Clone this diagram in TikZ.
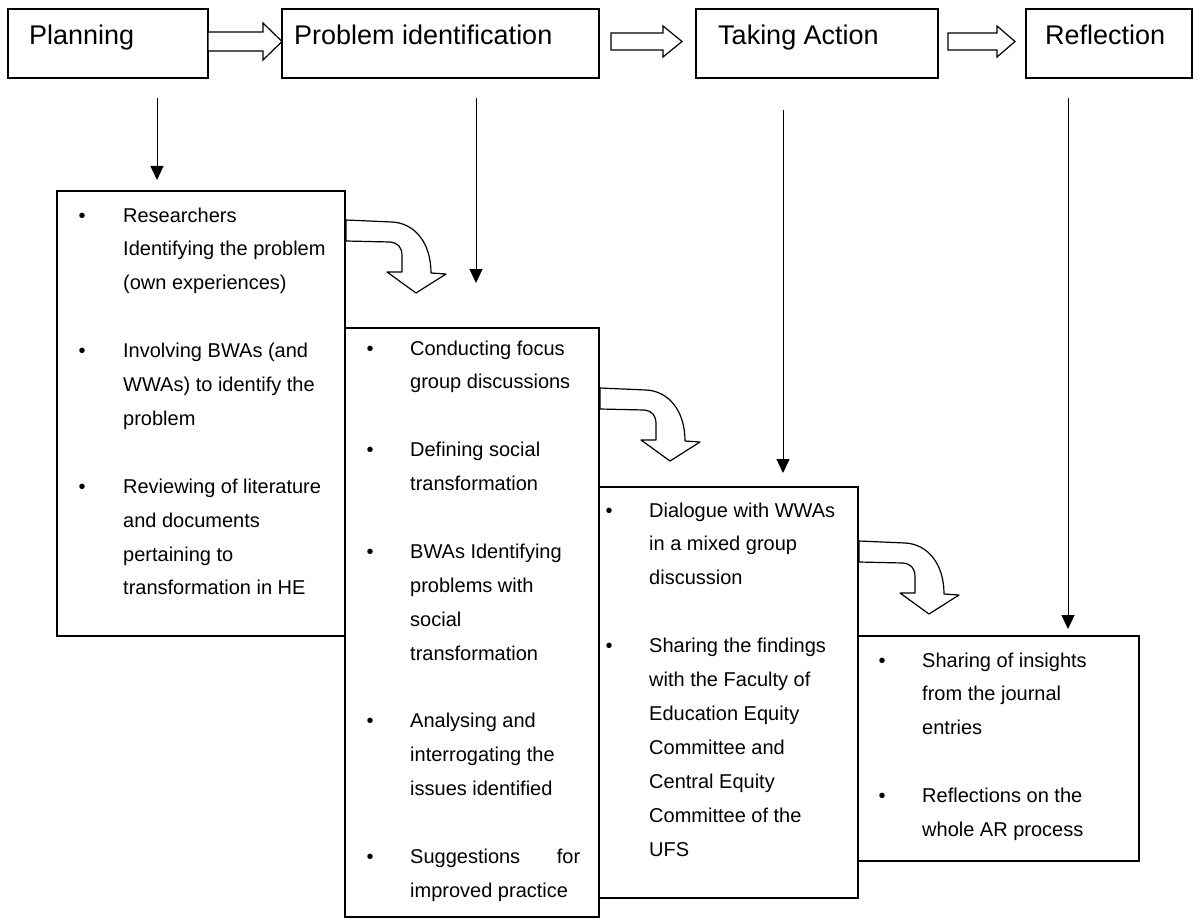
\documentclass[tikz,border=0pt]{standalone}
\usepackage{fontspec}
\setmainfont{Liberation Sans}
\usetikzlibrary{arrows.meta}

% bullet centred at the start of a fixed-width column
\newcommand\bi[1][40pt]{\makebox[#1][l]{\makebox[0pt]{\textbullet}}}

\begin{document}
\begin{tikzpicture}[x=1pt,y=-1pt,
  box/.style={draw, line width=1.2pt, rectangle, inner sep=0pt, outer sep=0pt, anchor=north west},
  title/.style={anchor=base west, inner sep=0pt, font=\fontsize{27}{32}\selectfont},
  items/.style={anchor=base west, inner sep=0pt, font=\fontsize{20}{33.9}\selectfont},
  down/.style={line width=1pt, -{Triangle[width=13pt,length=14pt]}},
  hollow/.style={draw, fill=white, line width=1.2pt, line join=miter},
  turnarrow/.pic={
    \draw[hollow, line join=round]
      (0,0) -- (46,2) .. controls (68,3) and (85,22) .. (85,53)
      -- (100,54) -- (70,73) -- (41,52) -- (56,52)
      -- (56,36) .. controls (56,27) and (52,23) .. (44,22)
      -- (0,21) -- cycle;
  }]
\useasboundingbox (0,0) rectangle (1198,920);

% stage boxes along the top
\node[box, minimum width=200pt, minimum height=69pt] (plan) at (8,9) {};
\node[box, minimum width=317pt, minimum height=69pt] (prob) at (282,9) {};
\node[box, minimum width=242pt, minimum height=69pt] (act)  at (696,9) {};
\node[box, minimum width=166pt, minimum height=69pt] (refl) at (1026,9) {};

\node[title] (planT) at (29,45)   {Planning};
\node[title] (probT) at (294,45)  {Problem identification};
\node[title] (actT)  at (718,45)  {Taking Action};
\node[title] (reflT) at (1045,45) {Reflection};

% block arrows between the stages
\draw[hollow] (208,32) -- (263,32) -- (263,23) -- (282,41.5) -- (263,60) -- (263,51) -- (208,51) -- cycle;
\draw[hollow] (611,33) -- (663,33) -- (663,26) -- (682,41.5) -- (663,57) -- (663,50) -- (611,50) -- cycle;
\draw[hollow] (948,33) -- (997,33) -- (997,26) -- (1015,41.5) -- (997,57) -- (997,50) -- (948,50) -- cycle;

% activity boxes
\node[box, minimum width=288pt, minimum height=445pt] (b1) at (57,191) {};
\node[box, minimum width=254pt, minimum height=589pt] (b2) at (345,328) {};
\node[box, minimum width=259pt, minimum height=411pt] (b3) at (599,487) {};
\node[box, minimum width=281pt, minimum height=225pt] (b4) at (858,636) {};

\node[items] (b1T) at (82,222) {\begin{tabular}[t]{@{}l@{}l@{}}
\bi[41pt] & Researchers \\
 & Identifying the problem \\
 & (own experiences) \\
 & \\
\bi[41pt] & Involving BWAs (and \\
 & WWAs) to identify the \\
 & problem \\
 & \\
\bi[41pt] & Reviewing of literature \\
 & and documents \\
 & pertaining to \\
 & transformation in HE
\end{tabular}};

\node[items] (b2T) at (370,355) {\begin{tabular}[t]{@{}l@{}l@{}}
\bi & Conducting focus \\
 & group discussions \\
 & \\
\bi & Defining social \\
 & transformation \\
 & \\
\bi & BWAs Identifying \\
 & problems with \\
 & social \\
 & transformation \\
 & \\
\bi & Analysing and \\
 & interrogating the \\
 & issues identified \\
 & \\
\bi & \makebox[170pt][s]{Suggestions for} \\
 & improved practice
\end{tabular}};

\node[items] (b3T) at (609,517) {\begin{tabular}[t]{@{}l@{}l@{}}
\bi & Dialogue with WWAs \\
 & in a mixed group \\
 & discussion \\
 & \\
\bi & Sharing the findings \\
 & with the Faculty of \\
 & Education Equity \\
 & Committee and \\
 & Central Equity \\
 & Committee of the \\
 & UFS
\end{tabular}};

\node[items] (b4T) at (882,667) {\begin{tabular}[t]{@{}l@{}l@{}}
\bi & Sharing of insights \\
 & from the journal \\
 & entries \\
 & \\
\bi & Reflections on the \\
 & whole AR process
\end{tabular}};

% curved block arrows leading from one activity box to the next
\pic at (346,220) {turnarrow};
\pic at (600,388) {turnarrow};
\pic at (859,541) {turnarrow};

% arrows from each stage down to its activities
\coordinate (d1s) at (157,98);  \coordinate (d1e) at (157,180);
\coordinate (d2s) at (476,98);  \coordinate (d2e) at (476,283);
\coordinate (d3s) at (783,110); \coordinate (d3e) at (783,473);
\coordinate (d4s) at (1068,98); \coordinate (d4e) at (1068,629);
\draw[down] (d1s) -- (d1e);
\draw[down] (d2s) -- (d2e);
\draw[down] (d3s) -- (d3e);
\draw[down] (d4s) -- (d4e);
\end{tikzpicture}
\end{document}
